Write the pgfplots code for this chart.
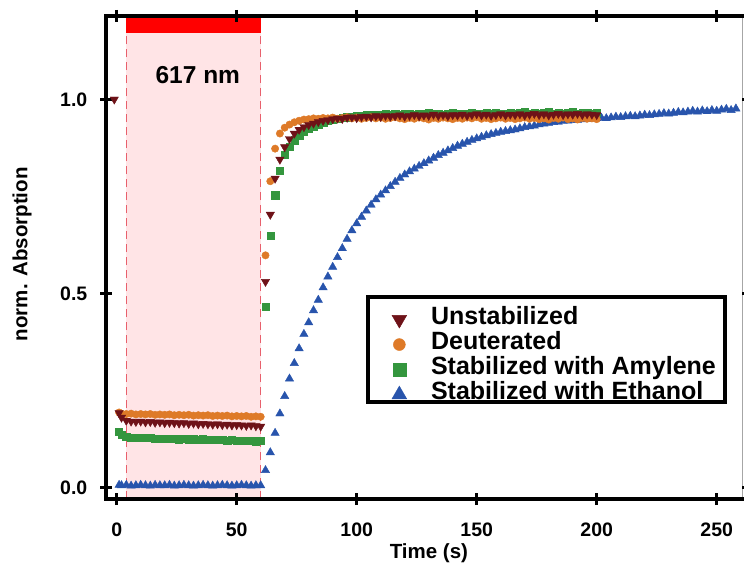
\documentclass[border=0pt]{standalone}
\usepackage{fontspec}
\setmainfont{Liberation Sans}
\usepackage{pgfplots}
\pgfplotsset{compat=1.18}
\definecolor{cUn}{RGB}{110,18,24}
\definecolor{cDe}{RGB}{222,122,40}
\definecolor{cAm}{RGB}{52,150,62}
\definecolor{cEt}{RGB}{40,84,172}
\definecolor{cPink}{RGB}{255,228,230}
\definecolor{cBar}{RGB}{255,0,0}
\definecolor{cDash}{RGB}{232,96,108}
\pgfplotsset{legimg/.style={legend image code/.code={\path[draw=none,fill=none] (0pt,-12pt) rectangle (28pt,12pt); \draw[overlay,##1] plot coordinates {(22.3pt,-7.5pt)};}}}
\begin{document}
\begin{tikzpicture}
\begin{axis}[
 at={(0pt,0pt)}, anchor=south west, scale only axis,
 width=641.4pt, height=483.06pt,
 xmin=-4.25, xmax=263, ymin=-0.03, ymax=1.215,
 axis on top,
 axis line style={line width=4pt, black},
 every tick/.style={black, line width=3pt},
 major tick length=12pt, tick align=center,
 xtick={0,50,100,150,200,250}, xticklabels={0,50,100,150,200,250},
 ytick={0,0.5,1}, yticklabels={0.0,0.5,1.0},
 xticklabel style={font=\fontsize{19.5}{22}\selectfont\bfseries, anchor=north, inner sep=0pt, yshift=-18pt},
 yticklabel style={font=\fontsize{19.5}{22}\selectfont\bfseries, anchor=east, inner sep=0pt, xshift=-13pt},
 xlabel={Time (s)}, ylabel={norm. Absorption},
 xlabel style={font=\fontsize{20.5}{24}\selectfont\bfseries, at={(axis description cs:0.5027,-0.1118)}, anchor=center},
 ylabel style={font=\fontsize{20.5}{24}\selectfont\bfseries, at={(axis description cs:-0.1317,0.5068)}, anchor=center},
 legend style={at={(axis cs:103.9,0.4956)}, anchor=north west, draw=black, line width=4pt, fill=white,
   inner xsep=9pt, inner ysep=3pt, column sep=26pt, row sep=1pt,
   font=\fontsize{25}{28}\selectfont\bfseries,
   nodes={inner sep=0pt, text height=24pt, text depth=0pt}},
 legend cell align=left,
]
\fill[cPink] (axis cs:4,-0.03) rectangle (axis cs:60,1.171);
\fill[cBar] (axis cs:4,1.171) rectangle (axis cs:60,1.215);
\draw[cDash, line width=1.2pt, dash pattern=on 8pt off 5pt] (axis cs:4,-0.03) -- (axis cs:4,1.171);
\draw[cDash, line width=1.2pt, dash pattern=on 8pt off 5pt] (axis cs:60,-0.03) -- (axis cs:60,1.171);
\draw[black!35, line width=0.8pt] (axis cs:260.8,-0.03) -- (axis cs:260.8,1.215);
\node[font=\fontsize{24.5}{28}\selectfont\bfseries, anchor=center] at (axis cs:33.8,1.063) {617 nm};

\addlegendimage{legimg, only marks, line width=0.4pt, mark=triangle*, mark options={rotate=180}, color=cUn, mark size=8.5pt}
\addlegendentry{Unstabilized}
\addlegendimage{legimg, only marks, line width=0.4pt, mark=*, color=cDe, mark size=6pt}
\addlegendentry{Deuterated}
\addlegendimage{legimg, only marks, line width=0.4pt, mark=square*, color=cAm, mark size=6.5pt}
\addlegendentry{Stabilized with Amylene}
\addlegendimage{legimg, only marks, line width=0.4pt, mark=triangle*, color=cEt, mark size=8.5pt}
\addlegendentry{Stabilized with Ethanol}

% Stabilized with Ethanol
\addplot[forget plot, only marks, mark=triangle*, mark size=4.8pt, color=cEt] coordinates {
(1,0.006)(2,0.005)(4,0.006)(6,0.004)(8,0.005)(10,0.006)(12,0.005)(14,0.004)(16,0.006)(18,0.005)
(20,0.005)(22,0.006)(24,0.004)(26,0.005)(28,0.006)(30,0.005)(32,0.004)(34,0.005)(36,0.006)(38,0.005)
(40,0.004)(42,0.005)(44,0.006)(46,0.005)(48,0.004)(50,0.005)(52,0.006)(54,0.005)(56,0.004)(58,0.005)(60,0.005)
(62,0.044)(64,0.090)(66,0.140)(68,0.190)(70,0.235)(72,0.280)(74,0.320)(76,0.358)(78,0.395)(80,0.425)
(82,0.456)(84,0.483)(86,0.515)(88,0.543)(90,0.568)(92,0.593)(94,0.616)(96,0.640)(98,0.662)(100,0.680)
(102,0.697)(104,0.713)(106,0.728)(108,0.742)(110,0.754)(112,0.765)(114,0.776)(116,0.787)(118,0.797)(120,0.806)
(122,0.814)(124,0.821)(126,0.828)(128,0.835)(130,0.842)(132,0.849)(134,0.856)(136,0.862)(138,0.868)(140,0.874)
(142,0.880)(144,0.885)(146,0.890)(148,0.895)(150,0.899)(152,0.903)(154,0.907)(156,0.910)(158,0.913)(160,0.916)
(162,0.918)(164,0.920)(166,0.922)(168,0.925)(170,0.928)(172,0.930)(174,0.932)(176,0.935)(178,0.937)(180,0.939)
(182,0.941)(184,0.942)(186,0.944)(188,0.945)(190,0.946)(192,0.947)(194,0.948)(196,0.949)(198,0.950)(200,0.951)
(202,0.952)(204,0.951)(206,0.953)(208,0.955)(210,0.954)(212,0.956)(214,0.957)(216,0.956)(218,0.958)(220,0.960)
(222,0.959)(224,0.961)(226,0.962)(228,0.964)(230,0.963)(232,0.965)(234,0.967)(236,0.966)(238,0.968)(240,0.970)
(242,0.968)(244,0.971)(246,0.969)(248,0.972)(250,0.970)(252,0.973)(254,0.975)(256,0.972)(258,0.976)
};
% Stabilized with Amylene
\addplot[forget plot, only marks, mark=square*, mark size=3.6pt, color=cAm] coordinates {
(1,0.143)(2,0.136)(4,0.131)(6,0.129)(8,0.128)(10,0.128)(12,0.127)(14,0.127)(16,0.126)(18,0.126)
(20,0.125)(22,0.126)(24,0.125)(26,0.124)(28,0.125)(30,0.124)(32,0.124)(34,0.123)(36,0.124)(38,0.123)
(40,0.122)(42,0.123)(44,0.122)(46,0.121)(48,0.122)(50,0.121)(52,0.120)(54,0.121)(56,0.120)(58,0.119)(60,0.120)
(62,0.466)(64,0.649)(66,0.753)(68,0.817)(70,0.858)(72,0.879)(74,0.895)(76,0.907)(78,0.917)(80,0.925)
(82,0.931)(84,0.936)(86,0.940)(88,0.944)(90,0.947)(92,0.950)(94,0.952)(96,0.954)(98,0.956)(100,0.957)
(102,0.958)(104,0.960)(106,0.959)(108,0.961)(110,0.960)(112,0.962)(114,0.961)(116,0.963)(118,0.960)(120,0.962)
(122,0.964)(124,0.961)(126,0.963)(128,0.962)(130,0.965)(132,0.962)(134,0.964)(136,0.961)(138,0.963)(140,0.965)
(142,0.962)(144,0.964)(146,0.963)(148,0.965)(150,0.962)(152,0.964)(154,0.966)(156,0.963)(158,0.965)(160,0.962)
(162,0.964)(164,0.966)(166,0.963)(168,0.965)(170,0.967)(172,0.964)(174,0.966)(176,0.963)(178,0.965)(180,0.968)
(182,0.964)(184,0.966)(186,0.963)(188,0.965)(190,0.967)(192,0.964)(194,0.966)(196,0.965)(198,0.963)(200,0.966)
};
% Deuterated
\addplot[forget plot, only marks, mark=*, mark size=3.7pt, color=cDe] coordinates {
(1,0.193)(2,0.190)(4,0.189)(6,0.190)(8,0.188)(10,0.189)(12,0.188)(14,0.189)(16,0.187)(18,0.188)
(20,0.187)(22,0.188)(24,0.186)(26,0.187)(28,0.186)(30,0.187)(32,0.185)(34,0.186)(36,0.185)(38,0.186)
(40,0.184)(42,0.185)(44,0.184)(46,0.185)(48,0.183)(50,0.184)(52,0.183)(54,0.184)(56,0.182)(58,0.183)(60,0.182)
(62,0.598)(64,0.789)(66,0.873)(68,0.912)(70,0.927)(72,0.935)(74,0.941)(76,0.945)(78,0.948)(80,0.949)
(82,0.951)(84,0.950)(86,0.952)(88,0.951)(90,0.953)(92,0.950)(94,0.952)(96,0.954)(98,0.951)(100,0.953)
(102,0.950)(104,0.952)(106,0.954)(108,0.951)(110,0.953)(112,0.950)(114,0.952)(116,0.954)(118,0.951)(120,0.949)
(122,0.952)(124,0.950)(126,0.953)(128,0.951)(130,0.948)(132,0.952)(134,0.950)(136,0.953)(138,0.951)(140,0.949)
(142,0.952)(144,0.950)(146,0.953)(148,0.951)(150,0.954)(152,0.950)(154,0.952)(156,0.949)(158,0.951)(160,0.953)
(162,0.950)(164,0.952)(166,0.949)(168,0.951)(170,0.953)(172,0.950)(174,0.952)(176,0.949)(178,0.951)(180,0.948)
(182,0.952)(184,0.950)(186,0.953)(188,0.949)(190,0.951)(192,0.948)(194,0.952)(196,0.950)(198,0.951)(200,0.949)
};
% Unstabilized
\addplot[forget plot, only marks, mark=triangle*, mark options={rotate=180}, mark size=4.8pt, color=cUn] coordinates {
(-1,1.000)
(1,0.192)(2,0.180)(4,0.172)(6,0.170)(8,0.169)(10,0.170)(12,0.168)(14,0.169)(16,0.167)(18,0.168)
(20,0.166)(22,0.167)(24,0.166)(26,0.165)(28,0.166)(30,0.164)(32,0.165)(34,0.163)(36,0.164)(38,0.163)
(40,0.162)(42,0.163)(44,0.161)(46,0.162)(48,0.160)(50,0.161)(52,0.160)(54,0.159)(56,0.160)(58,0.158)(60,0.157)
(62,0.530)(64,0.703)(66,0.796)(68,0.845)(70,0.877)(72,0.898)(74,0.912)(76,0.922)(78,0.929)(80,0.934)
(82,0.938)(84,0.942)(86,0.945)(88,0.947)(90,0.949)(92,0.951)(94,0.950)(96,0.953)(98,0.954)(100,0.952)
(102,0.955)(104,0.956)(106,0.954)(108,0.957)(110,0.955)(112,0.958)(114,0.956)(116,0.957)(118,0.959)(120,0.956)
(122,0.958)(124,0.960)(126,0.957)(128,0.959)(130,0.958)(132,0.961)(134,0.958)(136,0.960)(138,0.957)(140,0.960)
(142,0.959)(144,0.961)(146,0.958)(148,0.960)(150,0.962)(152,0.959)(154,0.961)(156,0.958)(158,0.960)(160,0.962)
(162,0.959)(164,0.961)(166,0.960)(168,0.962)(170,0.959)(172,0.961)(174,0.963)(176,0.960)(178,0.962)(180,0.959)
(182,0.961)(184,0.963)(186,0.960)(188,0.962)(190,0.961)(192,0.963)(194,0.960)(196,0.962)(198,0.961)(200,0.960)
};
\end{axis}
\pgfresetboundingbox
\useasboundingbox (-106.5pt,-67pt) rectangle (637.5pt,499pt);
\end{tikzpicture}
\end{document}
